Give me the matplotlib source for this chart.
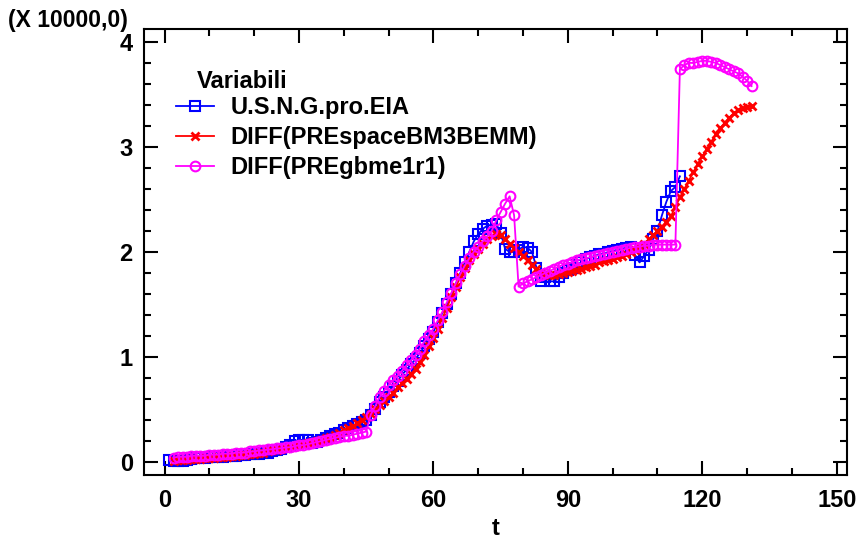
import matplotlib
matplotlib.use("Agg")
import matplotlib.pyplot as plt
from matplotlib.ticker import MultipleLocator
import numpy as np

plt.rcParams['font.family'] = ['Liberation Sans', 'DejaVu Sans']

# U.S.N.G.pro.EIA  (t = 1..115), values in units of 10000
t_blue = list(range(1, 116))
blue = [0.02, 0.01, 0.01, 0.01, 0.02, 0.03, 0.04, 0.04, 0.04, 0.05,
        0.05, 0.05, 0.05, 0.06, 0.06, 0.06, 0.07, 0.07, 0.08, 0.08,
        0.08, 0.09, 0.09, 0.10, 0.11, 0.12, 0.14, 0.16, 0.20, 0.21,
        0.21, 0.21, 0.18, 0.19, 0.21, 0.23, 0.25, 0.27, 0.28, 0.30,
        0.32, 0.34, 0.36, 0.38, 0.40, 0.45, 0.50, 0.57, 0.62, 0.67,
        0.72, 0.77, 0.83, 0.88, 0.93, 0.98, 1.04, 1.10, 1.17, 1.24,
        1.33, 1.42, 1.50, 1.60, 1.70, 1.80, 1.90, 2.00, 2.10, 2.17,
        2.22, 2.25, 2.26, 2.27, 2.18, 2.03, 2.00, 2.00, 2.02, 2.05,
        2.04, 2.00, 1.85, 1.72, 1.76, 1.72, 1.72, 1.76, 1.80, 1.83,
        1.85, 1.88, 1.90, 1.93, 1.95, 1.96, 1.98, 1.98, 2.00, 2.01,
        2.02, 2.03, 2.04, 2.05, 1.97, 1.90, 1.96, 2.02, 2.12, 2.20,
        2.35, 2.48, 2.58, 2.62, 2.72]

# DIFF(PREspaceBM3BEMM)  (t = 2..131)
t_red = list(range(2, 132))
red = [0.01, 0.02, 0.02, 0.02, 0.03, 0.03, 0.03, 0.04, 0.04,
       0.04, 0.05, 0.05, 0.05, 0.06, 0.06, 0.07, 0.07, 0.08, 0.08,
       0.09, 0.09, 0.10, 0.11, 0.11, 0.12, 0.13, 0.14, 0.15, 0.16,
       0.17, 0.18, 0.19, 0.20, 0.21, 0.23, 0.24, 0.26, 0.28, 0.30,
       0.32, 0.34, 0.37, 0.40, 0.43, 0.46, 0.50, 0.54, 0.58, 0.62,
       0.66, 0.71, 0.75, 0.79, 0.84, 0.89, 0.95, 1.02, 1.10, 1.18,
       1.27, 1.37, 1.47, 1.57, 1.67, 1.76, 1.85, 1.92, 1.98, 2.03,
       2.08, 2.12, 2.15, 2.17, 2.16, 2.12, 2.08, 2.04, 2.00, 1.96,
       1.92, 1.88, 1.84, 1.81, 1.79, 1.78, 1.78, 1.79, 1.80, 1.81,
       1.82, 1.83, 1.84, 1.86, 1.87, 1.88, 1.90, 1.91, 1.92, 1.93,
       1.95, 1.96, 1.98, 2.00, 2.02, 2.05, 2.08, 2.12, 2.16, 2.20,
       2.24, 2.29, 2.34, 2.43, 2.52, 2.60, 2.68, 2.76, 2.84, 2.91,
       2.98, 3.05, 3.12, 3.18, 3.23, 3.28, 3.32, 3.35, 3.37, 3.385,
       3.39]

# DIFF(PREgbme1r1)  (t = 2..131)
t_mag = list(range(2, 132))
mag = [0.04, 0.05, 0.05, 0.05, 0.06, 0.06, 0.06, 0.06, 0.07,
       0.07, 0.07, 0.08, 0.08, 0.08, 0.09, 0.09, 0.09, 0.10, 0.10,
       0.11, 0.11, 0.12, 0.12, 0.13, 0.13, 0.14, 0.14, 0.15, 0.16,
       0.16, 0.17, 0.18, 0.19, 0.20, 0.21, 0.22, 0.23, 0.24, 0.25,
       0.25, 0.26, 0.27, 0.28, 0.29, 0.45, 0.53, 0.62, 0.68, 0.73,
       0.78, 0.82, 0.87, 0.92, 0.97, 1.02, 1.08, 1.15, 1.21, 1.27,
       1.35, 1.43, 1.52, 1.61, 1.70, 1.79, 1.87, 1.94, 2.00, 2.05,
       2.10, 2.15, 2.20, 2.30, 2.38, 2.46, 2.53, 2.35, 1.67, 1.70,
       1.72, 1.74, 1.76, 1.78, 1.80, 1.82, 1.84, 1.86, 1.88, 1.89,
       1.90, 1.92, 1.93, 1.94, 1.95, 1.96, 1.97, 1.98, 1.99, 2.00,
       2.01, 2.02, 2.03, 2.04, 2.05, 2.05, 2.06, 2.06, 2.07, 2.07,
       2.07, 2.07, 2.07, 2.07, 3.74, 3.78, 3.80, 3.80, 3.81, 3.82,
       3.82, 3.81, 3.80, 3.78, 3.76, 3.74, 3.72, 3.70, 3.67, 3.63,
       3.58]

series_names = ["U.S.N.G.pro.EIA", "DIFF(PREspaceBM3BEMM)", "DIFF(PREgbme1r1)"]

fig = plt.figure(figsize=(8.58, 5.43), dpi=100)
ax = fig.add_axes([0.1678, 0.1252, 0.8194, 0.8208])

ax.plot(t_blue, blue, color='#0000ff', lw=1.3, marker='s', ms=7,
        mfc='none', mec='#0000ff', mew=1.5, label=series_names[0], zorder=3)
ax.plot(t_red, red, color='#ff0000', lw=1.3, marker='x', ms=6,
        mec='#ff0000', mew=2.0, label=series_names[1], zorder=4)
ax.plot(t_mag, mag, color='#ff00ff', lw=1.3, marker='o', ms=7,
        mfc='none', mec='#ff00ff', mew=1.5, label=series_names[2], zorder=5)

ax.set_xlim(-4.6, 152.3)
ax.set_ylim(-0.124, 4.12)
ax.xaxis.set_major_locator(MultipleLocator(30))
ax.xaxis.set_minor_locator(MultipleLocator(10))
ax.yaxis.set_major_locator(MultipleLocator(1))
ax.yaxis.set_minor_locator(MultipleLocator(0.2))
ax.tick_params(which='both', direction='in', top=True, right=True, width=1.5)
ax.tick_params(which='major', length=10, labelsize=17)
ax.tick_params(axis='x', which='major', pad=10)
ax.tick_params(axis='y', which='major', pad=8)
ax.tick_params(which='minor', length=5)
for lab in ax.get_xticklabels() + ax.get_yticklabels():
    lab.set_fontweight('bold')
for sp in ax.spines.values():
    sp.set_linewidth(1.5)

ax.set_xlabel('t', fontsize=17, fontweight='bold', labelpad=4)
fig.text(8 / 858, 1 - 20 / 543, '(X 10000,0)', fontsize=16.5, fontweight='bold',
         ha='left', va='center')

leg = ax.legend(loc='upper left', bbox_to_anchor=(167 / 858, 1 - 61 / 543),
                bbox_transform=fig.transFigure, frameon=False,
                title='Variabili', prop={'weight': 'bold', 'size': 17},
                handlelength=1.6, handletextpad=0.7, labelspacing=0.3,
                borderaxespad=0, alignment='left')
leg.get_title().set_fontweight('bold')
leg.get_title().set_fontsize(17)
leg.get_title().set_position((20, 0))
leg._legend_box.sep = 2

fig.savefig('out.png', dpi=100)
